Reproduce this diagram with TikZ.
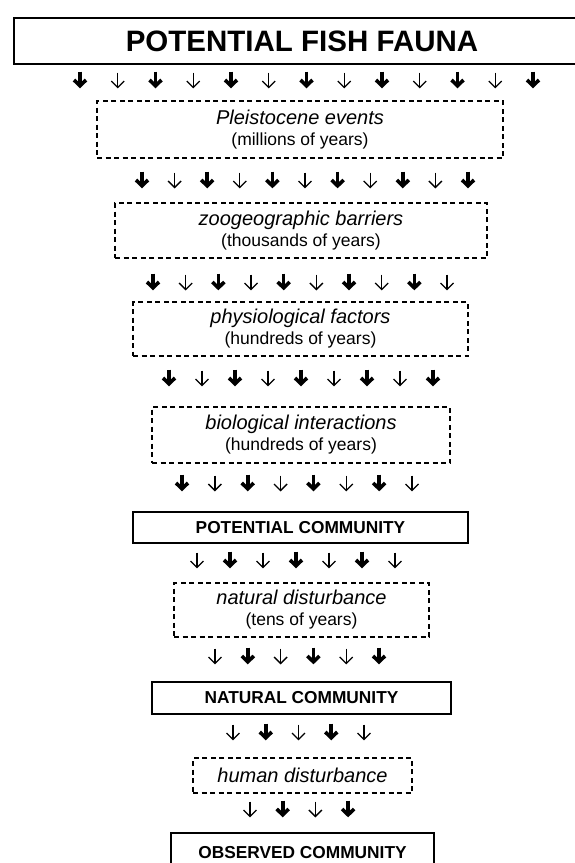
\documentclass[tikz,border=0pt]{standalone}
\usepackage{fontspec}
\setmainfont{Liberation Sans}
\begin{document}
\begin{tikzpicture}[x=1pt,y=-1pt,
  solidbox/.style={draw, line width=1.6pt, rectangle, inner sep=0pt, font=\bfseries\fontsize{17.3}{20}\selectfont},
  dashbox/.style={draw, line width=1.3pt, dash pattern=on 5pt off 3.5pt, rectangle, inner sep=0pt, align=center, font=\fontsize{17.5}{21}\selectfont},
  thickarr/.pic={\draw[line width=3.6pt] (0,-8.5)--(0,4); \draw[line width=3.6pt, miter limit=10] (-6,0)--(0,5.8)--(6,0);},
  thinarr/.pic={\draw[line width=1.3pt] (0,-7.5)--(0,7); \draw[line width=1.3pt, miter limit=10] (-6.5,1)--(0,7.5)--(6.5,1);}
]
\fill[white] (0,0) rectangle (574,863);
\useasboundingbox (0,0) rectangle (574,863);
\newcommand{\itz}{\fontsize{20}{21}\selectfont\itshape}

\node[draw, line width=1.6pt, inner sep=0pt, minimum width=576pt, minimum height=46pt,
      font=\bfseries\fontsize{29.5}{32}\selectfont] (fauna) at (302,41) {POTENTIAL FISH FAUNA};

\node[dashbox, minimum width=406pt, minimum height=57pt] (pleist) at (300,129.5)
  {{\itz Pleistocene events}\\(millions of years)};
\node[dashbox, minimum width=372pt, minimum height=55pt] (zoo) at (301,230.5)
  {{\itz zoogeographic barriers}\\(thousands of years)};
\node[dashbox, minimum width=335pt, minimum height=54pt] (phys) at (300.5,329)
  {{\itz physiological factors}\\(hundreds of years)};
\node[dashbox, minimum width=298pt, minimum height=56pt] (bio) at (301,435)
  {{\itz biological interactions}\\(hundreds of years)};
\node[solidbox, minimum width=335pt, minimum height=31pt] (potcom) at (300.5,527.5) {POTENTIAL COMMUNITY};
\node[dashbox, minimum width=255pt, minimum height=54pt] (natdist) at (301.5,610)
  {{\itz natural disturbance}\\(tens of years)};
\node[solidbox, minimum width=299pt, minimum height=32pt] (natcom) at (301.5,698) {NATURAL COMMUNITY};
\node[dashbox, minimum width=219pt, minimum height=35pt] (human) at (302.5,775.5)
  {{\itz human disturbance}};
\node[solidbox, minimum width=263pt, minimum height=39pt] (obscom) at (302.5,852.5) {OBSERVED COMMUNITY};

\foreach \yy/\n/\xa/\dx/\s in {80/13/80/37.75/0, 180/11/142/32.6/0, 282/10/153/32.67/0,
   378/9/169/33/0, 483/8/182/32.86/0, 560/7/197/33/1, 656/6/215/32.8/1, 732/5/233/32.75/1, 809/4/250/32.7/1} {
  \foreach \i in {1,...,\n} {
    \pgfmathtruncatemacro\k{mod(\i+\s,2)}
    \pgfmathsetmacro\xx{\xa+(\i-1)*\dx}
    \ifnum\k=1 \pic at (\xx,\yy) {thickarr}; \else \pic at (\xx,\yy) {thinarr}; \fi
  }
}
\end{tikzpicture}
\end{document}
